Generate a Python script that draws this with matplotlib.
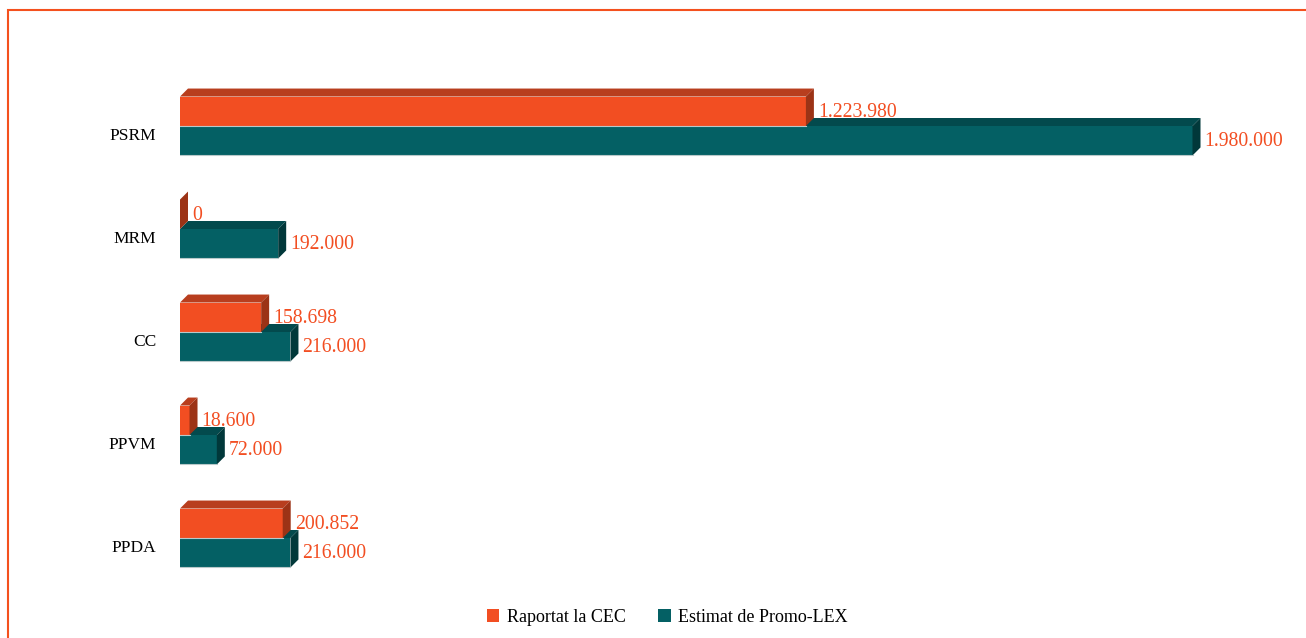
import matplotlib
matplotlib.use("Agg")
import matplotlib.pyplot as plt
from matplotlib.patches import Polygon, Patch, Rectangle
from matplotlib.transforms import ScaledTranslation
import numpy as np

categories = ["PSRM", "MRM", "CC", "PPVM", "PPDA"]
raportat = [1223980, 0, 158698, 18600, 200852]
estimat = [1980000, 192000, 216000, 72000, 216000]
series_names = ["Raportat la CEC", "Estimat de Promo-LEX"]

def fmt(v):
    return f"{v:,}".replace(",", ".")

W, H, DPI = 1306, 638, 100
fig = plt.figure(figsize=(W / DPI, H / DPI), dpi=DPI)
fig.patch.set_facecolor("white")

# axes geometry (pixels)
ax_left_px, ax_w_px = 180, 1125
ax_top_px, ax_h_px = 74.5, 515
ax = fig.add_axes([ax_left_px / W, (H - ax_top_px - ax_h_px) / H, ax_w_px / W, ax_h_px / H])
ax.set_xlim(0, 2200000)
ax.set_ylim(len(categories) - 0.5, -0.5)
for s in ax.spines.values():
    s.set_visible(False)
ax.set_xticks([])

c_or = "#F24E22"; c_or_top = "#B83E1E"; c_or_side = "#9C3316"
c_te = "#046064"; c_te_top = "#034A4D"; c_te_side = "#01383A"

h = 0.286
depth_px = 8
dx = depth_px * (ax.get_xlim()[1] - ax.get_xlim()[0]) / ax_w_px
dy = depth_px * (len(categories)) / ax_h_px

y = np.arange(len(categories))

def draw_bar(val, ytop, ybot, front, top, side):
    # front face
    ax.add_patch(Polygon([(0, ybot), (0, ytop), (val, ytop), (val, ybot)], closed=True,
                         facecolor=front, edgecolor="none", zorder=2))
    ax.plot([0, val], [ybot, ybot], color="#b9c9ca", lw=0.8, zorder=2.1)
    # top face
    ax.add_patch(Polygon([(0, ytop), (dx, ytop - dy), (val + dx, ytop - dy), (val, ytop)], closed=True,
                         facecolor=top, edgecolor="none", zorder=2))
    # side face
    ax.add_patch(Polygon([(val, ytop), (val + dx, ytop - dy), (val + dx, ybot - dy), (val, ybot)], closed=True,
                         facecolor=side, edgecolor="none", zorder=2))

for i in range(len(categories)):
    # teal (lower) first, then orange (upper)
    draw_bar(estimat[i], y[i], y[i] + h, c_te, c_te_top, c_te_side)
    draw_bar(raportat[i], y[i] - h, y[i], c_or, c_or_top, c_or_side)

lab_font = dict(family="Liberation Serif", fontsize=14.2, color="#F24E22")
for i in range(len(categories)):
    ax.annotate(fmt(raportat[i]), xy=(raportat[i], y[i] - h / 2), xytext=(depth_px + 4, -1),
                textcoords="offset pixels", ha="left", va="center", **lab_font)
    ax.annotate(fmt(estimat[i]), xy=(estimat[i], y[i] + h / 2), xytext=(depth_px + 4, -1),
                textcoords="offset pixels", ha="left", va="center", **lab_font)

ax.set_yticks(y)
ax.set_yticklabels(categories, family="Liberation Serif", fontsize=12.5, color="black")
ax.tick_params(axis="y", length=0, pad=17)
off = ScaledTranslation(0, -8 / DPI, fig.dpi_scale_trans)
for lbl in ax.get_yticklabels():
    lbl.set_transform(lbl.get_transform() + off)

handles = [Patch(facecolor=c_or, edgecolor="none"), Patch(facecolor=c_te, edgecolor="none")]
fig.legend(handles, series_names, loc="center", bbox_to_anchor=(667 / W, 1 - 617 / H), ncol=2,
           frameon=False, handlelength=0.7, handleheight=0.7, handletextpad=0.4, columnspacing=1.8,
           prop=dict(family="Liberation Serif", size=13))

fig.add_artist(Rectangle((8 / W, -0.1), 1.5, (H - 10) / H + 0.1, transform=fig.transFigure,
                         fill=False, edgecolor="#F4511E", lw=1.5))

fig.savefig("out.png", dpi=DPI)
